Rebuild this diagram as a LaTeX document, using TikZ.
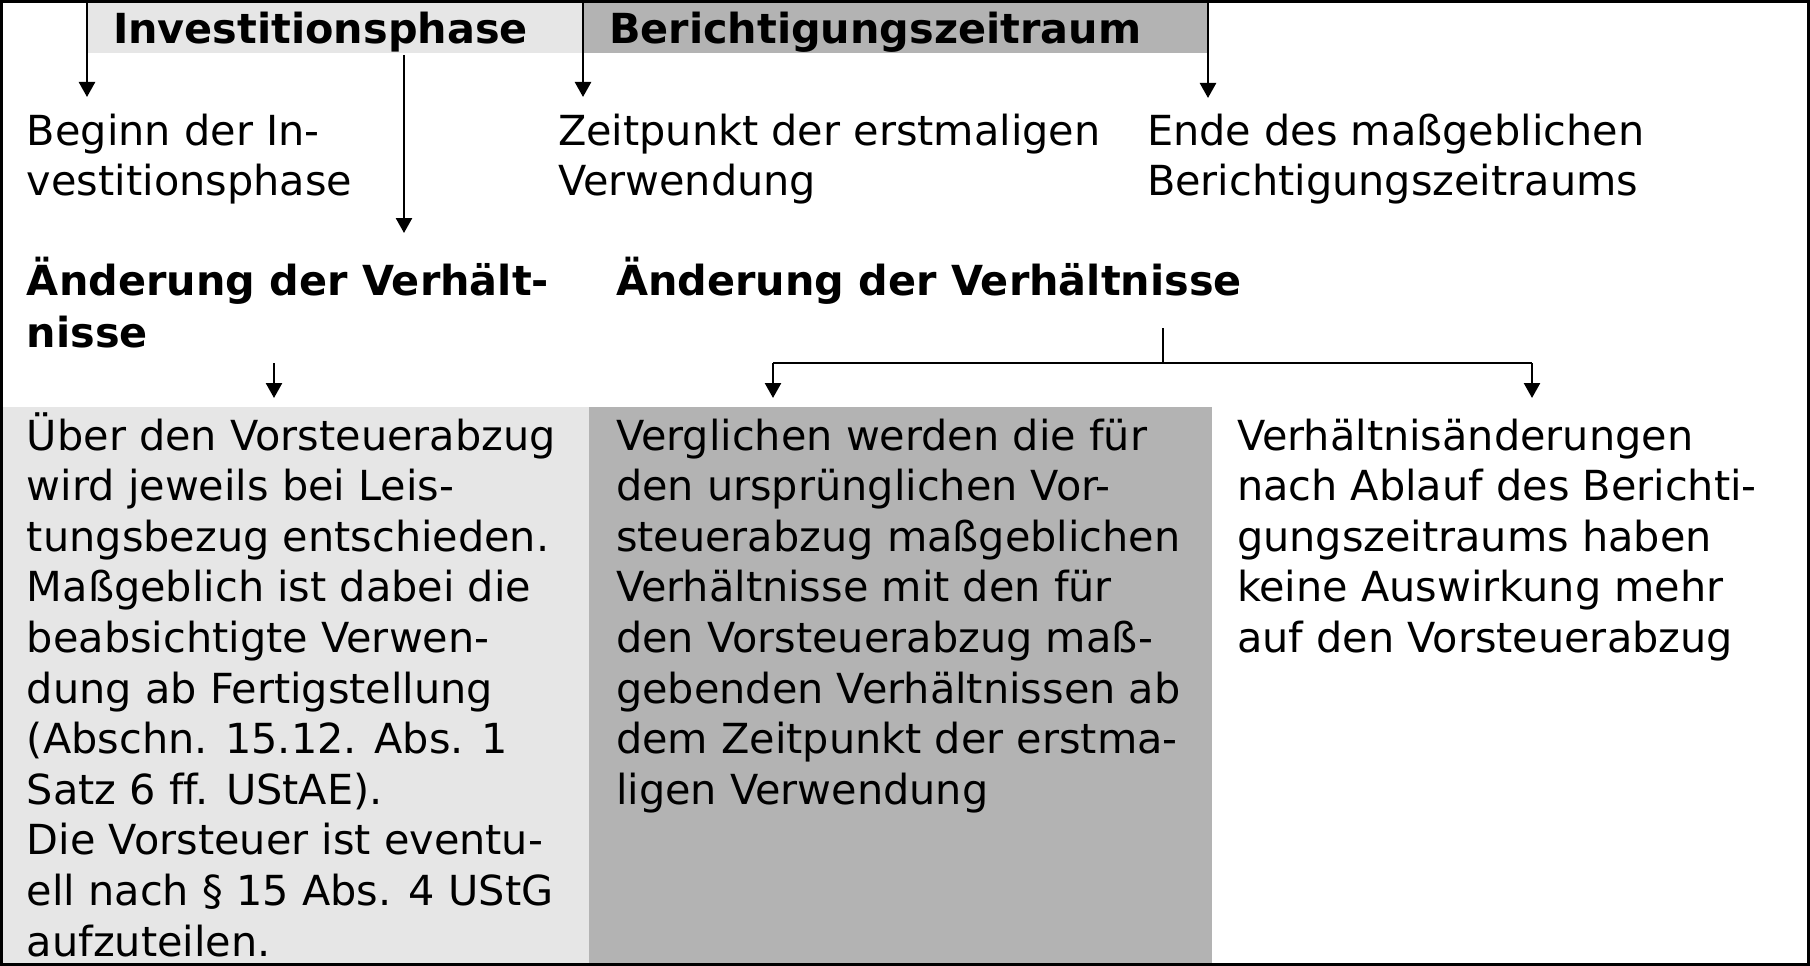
\documentclass[tikz,border=0pt]{standalone}
\usepackage{fontspec}
\setmainfont[Ligatures=NoCommon]{DejaVu Sans}
\usetikzlibrary{arrows.meta}
\definecolor{lightband}{RGB}{230,230,230}
\definecolor{darkband}{RGB}{179,179,179}
\newcommand\mlines[2]{\vtop{\baselineskip=#1\lineskiplimit=-1000pt\halign{##\hfil\cr#2\crcr}}}
\tikzset{
  txt/.style={anchor=base west, inner sep=0pt, outer sep=0pt, font=\fontsize{41.4pt}{50.6pt}\selectfont},
  btxt/.style={txt, font=\fontsize{41.4pt}{50.6pt}\selectfont\bfseries},
  arr/.style={line width=2.5pt, -{Triangle[length=15pt,width=16pt]}},
  ln/.style={line width=2.4pt},
}
\begin{document}
\begin{tikzpicture}[x=1pt,y=-1pt]
\useasboundingbox (0,0) rectangle (1810,966);
% bands and boxes
\fill[lightband] (88,0) rectangle (583,53);
\fill[darkband] (583,0) rectangle (1208,53);
\fill[lightband] (0,407) rectangle (589,966);
\fill[darkband] (589,407) rectangle (1212,966);
% header labels
\node[btxt] (hinv) at (113,44) {Investitionsphase};
\node[btxt] (hber) at (609,44) {Berichtigungszeitraum};
% time points
\node[txt] (beginn) at (27,145) {\mlines{50.6pt}{Beginn der In-\cr vestitionsphase}};
\node[txt] (zeit) at (558,145) {\mlines{50.6pt}{Zeitpunkt der erstmaligen\cr Verwendung}};
\node[txt] (ende) at (1147,145) {\mlines{50.6pt}{Ende des maßgeblichen\cr Berichtigungszeitraums}};
% changes
\node[btxt] (aend1) at (27,295) {\mlines{52pt}{Änderung der Verhält-\cr nisse}};
\node[btxt] (aend2) at (616,295) {Änderung der Verhältnisse};
% bottom texts
\node[txt] (links) at (27,450) {\mlines{50.6pt}{Über den Vorsteuerabzug\cr
wird jeweils bei Leis-\cr
tungsbezug entschieden.\cr
Maßgeblich ist dabei die\cr
beabsichtigte Verwen-\cr
dung ab Fertigstellung\cr
(Abschn. 15.12. Abs. 1\cr
Satz 6 ff. UStAE).\cr
Die Vorsteuer ist eventu-\cr
ell nach § 15 Abs. 4 UStG\cr
aufzuteilen.}};
\node[txt] (mitte) at (616,450) {\mlines{50.6pt}{Verglichen werden die für\cr
den ursprünglichen Vor-\cr
steuerabzug maßgeblichen\cr
Verhältnisse mit den für\cr
den Vorsteuerabzug maß-\cr
gebenden Verhältnissen ab\cr
dem Zeitpunkt der erstma-\cr
ligen Verwendung}};
\node[txt] (rechts) at (1237,450) {\mlines{50.6pt}{Verhältnisänderungen\cr
nach Ablauf des Berichti-\cr
gungszeitraums haben\cr
keine Auswirkung mehr\cr
auf den Vorsteuerabzug}};
% coordinates for connectors
\coordinate (a1s) at (87,0);    \coordinate (a1e) at (87,97);
\coordinate (a2s) at (404,55);  \coordinate (a2e) at (404,233);
\coordinate (a3s) at (583,0);   \coordinate (a3e) at (583,97);
\coordinate (a4s) at (1208,0);  \coordinate (a4e) at (1208,98);
\coordinate (a5s) at (274,363); \coordinate (a5e) at (274,398);
\coordinate (tt) at (1163,328); \coordinate (tj) at (1163,363);
\coordinate (tl) at (773,363);  \coordinate (tle) at (773,398);
\coordinate (tr) at (1532,363); \coordinate (tre) at (1532,398);
\draw[arr] (a1s) -- (a1e);
\draw[arr] (a2s) -- (a2e);
\draw[arr] (a3s) -- (a3e);
\draw[arr] (a4s) -- (a4e);
\draw[arr] (a5s) -- (a5e);
\draw[line width=1.8pt] (tt) -- (tj);
\draw[ln] (tl) -- (tr);
\draw[arr] (tl) -- (tle);
\draw[arr] (tr) -- (tre);
% frame
\draw[line width=3pt] (1.5,1.5) rectangle (1808.5,964.5);
\end{tikzpicture}
\end{document}
